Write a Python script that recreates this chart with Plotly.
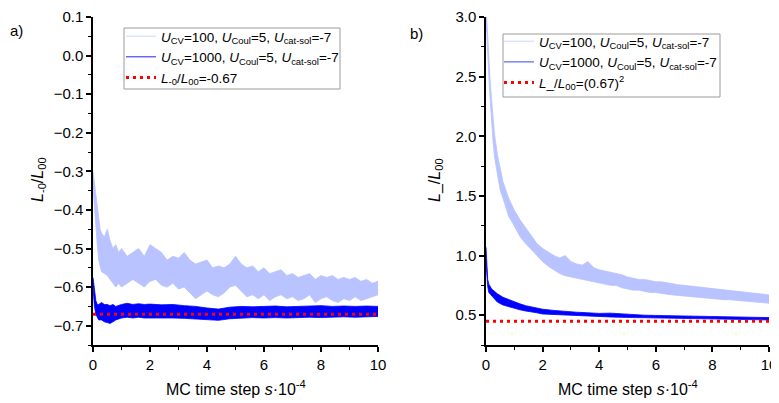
import plotly.graph_objects as go

# ---------------- data ----------------
# Panel a: L-0/L00, U_CV = 100 (light band envelope)
xa_light = [0, 0.05, 0.1, 0.15, 0.2, 0.25, 0.3, 0.4, 0.5, 0.6, 0.7, 0.8, 0.9, 1.0,
            1.2, 1.4, 1.6, 1.8, 2.0, 2.2, 2.4, 2.6, 2.8, 3.0, 3.2, 3.4, 3.6, 3.8,
            4.0, 4.2, 4.4, 4.6, 4.8, 5.0, 5.2, 5.4, 5.6, 5.8, 6.0, 6.2, 6.4, 6.6,
            6.8, 7.0, 7.2, 7.4, 7.6, 7.8, 8.0, 8.2, 8.4, 8.6, 8.8, 9.0, 9.2, 9.4,
            9.6, 9.8, 10.0]
ya_light_hi = [-0.30, -0.33, -0.36, -0.40, -0.43, -0.45, -0.46, -0.47, -0.45, -0.48,
               -0.50, -0.49, -0.51, -0.50, -0.52, -0.51, -0.50, -0.52, -0.49, -0.50,
               -0.51, -0.53, -0.52, -0.525, -0.51, -0.53, -0.54, -0.535, -0.53, -0.55,
               -0.545, -0.55, -0.54, -0.52, -0.54, -0.55, -0.545, -0.56, -0.55, -0.565,
               -0.56, -0.555, -0.57, -0.565, -0.575, -0.57, -0.565, -0.58, -0.57, -0.575,
               -0.57, -0.58, -0.575, -0.58, -0.575, -0.585, -0.58, -0.59, -0.585]
ya_light_lo = [-0.34, -0.40, -0.44, -0.49, -0.53, -0.55, -0.56, -0.565, -0.57, -0.58,
               -0.59, -0.60, -0.59, -0.60, -0.59, -0.58, -0.59, -0.60, -0.585, -0.58,
               -0.595, -0.60, -0.59, -0.605, -0.60, -0.615, -0.63, -0.62, -0.61, -0.62,
               -0.625, -0.615, -0.60, -0.595, -0.61, -0.625, -0.62, -0.63, -0.62, -0.635,
               -0.625, -0.62, -0.63, -0.625, -0.635, -0.63, -0.62, -0.64, -0.63, -0.625,
               -0.635, -0.64, -0.63, -0.635, -0.625, -0.635, -0.63, -0.625, -0.62]

# Panel a: U_CV = 1000 (dark band envelope)
xa_dark = [0, 0.05, 0.1, 0.15, 0.2, 0.3, 0.4, 0.5, 0.6, 0.7, 0.8, 1.0, 1.2, 1.4, 1.6,
           1.8, 2.0, 2.4, 2.8, 3.2, 3.6, 4.0, 4.4, 4.8, 5.2, 5.6, 6.0, 6.4, 6.8, 7.2,
           7.6, 8.0, 8.4, 8.8, 9.2, 9.6, 10.0]
ya_dark_hi = [-0.575, -0.61, -0.635, -0.645, -0.645, -0.64, -0.645, -0.645, -0.648, -0.645,
              -0.65, -0.645, -0.642, -0.645, -0.643, -0.645, -0.644, -0.646, -0.645, -0.648,
              -0.65, -0.654, -0.657, -0.652, -0.65, -0.651, -0.65, -0.649, -0.651, -0.65,
              -0.649, -0.648, -0.65, -0.649, -0.65, -0.649, -0.65]
ya_dark_lo = [-0.60, -0.65, -0.67, -0.68, -0.685, -0.685, -0.69, -0.692, -0.694, -0.69,
              -0.685, -0.68, -0.678, -0.68, -0.678, -0.68, -0.68, -0.679, -0.68, -0.681,
              -0.683, -0.685, -0.686, -0.682, -0.68, -0.679, -0.68, -0.679, -0.68, -0.679,
              -0.678, -0.679, -0.678, -0.677, -0.678, -0.677, -0.676]

# Panel b: L_/L00, U_CV = 100 (light band envelope)
xb_light = [0, 0.05, 0.1, 0.15, 0.2, 0.25, 0.3, 0.4, 0.5, 0.6, 0.7, 0.8, 0.9, 1.0,
            1.2, 1.4, 1.6, 1.8, 2.0, 2.2, 2.4, 2.6, 2.8, 3.0, 3.2, 3.4, 3.6, 3.8,
            4.0, 4.2, 4.4, 4.6, 4.8, 5.0, 5.2, 5.4, 5.6, 5.8, 6.0, 6.2, 6.4, 6.6,
            6.8, 7.0, 7.2, 7.4, 7.6, 7.8, 8.0, 8.2, 8.4, 8.6, 8.8, 9.0, 9.2, 9.4,
            9.6, 9.8, 10.0]
yb_light_hi = [3.10, 2.85, 2.65, 2.45, 2.30, 2.15, 2.02, 1.85, 1.72, 1.62, 1.55, 1.48,
               1.43, 1.38, 1.30, 1.23, 1.17, 1.10, 1.06, 1.03, 1.00, 0.98, 1.00, 0.95,
               0.93, 0.92, 0.95, 0.90, 0.88, 0.87, 0.86, 0.85, 0.84, 0.82, 0.81, 0.80,
               0.80, 0.79, 0.78, 0.78, 0.77, 0.76, 0.755, 0.75, 0.745, 0.74, 0.735, 0.73,
               0.725, 0.72, 0.71, 0.71, 0.70, 0.695, 0.69, 0.685, 0.68, 0.675, 0.67]
yb_light_lo = [3.00, 2.70, 2.50, 2.30, 2.10, 1.95, 1.83, 1.68, 1.55, 1.48, 1.40, 1.33,
               1.29, 1.25, 1.16, 1.10, 1.05, 1.00, 0.95, 0.91, 0.88, 0.85, 0.83, 0.82,
               0.81, 0.80, 0.79, 0.78, 0.77, 0.76, 0.75, 0.75, 0.73, 0.72, 0.71, 0.71,
               0.70, 0.69, 0.69, 0.68, 0.675, 0.67, 0.665, 0.66, 0.655, 0.65, 0.645, 0.64,
               0.64, 0.635, 0.63, 0.63, 0.625, 0.62, 0.615, 0.61, 0.605, 0.60, 0.60]

# Panel b: U_CV = 1000 (dark band envelope)
xb_dark = [0, 0.03, 0.06, 0.1, 0.2, 0.3, 0.4, 0.6, 0.8, 1.0, 1.2, 1.4, 1.6, 1.8, 2.0,
           2.4, 2.8, 3.2, 3.6, 4.0, 4.4, 4.8, 5.2, 5.6, 6.0, 6.5, 7.0, 7.5, 8.0, 8.5,
           9.0, 9.5, 10.0]
yb_dark_hi = [1.07, 0.90, 0.80, 0.76, 0.72, 0.70, 0.68, 0.65, 0.63, 0.61, 0.595, 0.58,
              0.57, 0.56, 0.55, 0.54, 0.53, 0.525, 0.52, 0.515, 0.517, 0.51, 0.505, 0.50,
              0.498, 0.495, 0.492, 0.49, 0.487, 0.485, 0.483, 0.482, 0.48]
yb_dark_lo = [0.95, 0.80, 0.74, 0.69, 0.66, 0.63, 0.61, 0.585, 0.57, 0.555, 0.545, 0.535,
              0.53, 0.52, 0.51, 0.505, 0.50, 0.495, 0.49, 0.487, 0.485, 0.482, 0.48, 0.477,
              0.475, 0.472, 0.47, 0.467, 0.465, 0.463, 0.462, 0.46, 0.46]

# reference levels
x_ref = [0, 10]
ref_a = -0.67
ref_b = 0.67 ** 2

name_100 = "<i>U</i><sub>CV</sub>=100, <i>U</i><sub>Coul</sub>=5, <i>U</i><sub>cat-sol</sub>=-7"
name_1000 = "<i>U</i><sub>CV</sub>=1000, <i>U</i><sub>Coul</sub>=5, <i>U</i><sub>cat-sol</sub>=-7"
name_ref_a = "<i>L</i><sub>-0</sub>/<i>L</i><sub>00</sub>=-0.67"
name_ref_b = "<i>L</i>_/<i>L</i><sub>00</sub>=(0.67)<sup>2</sup>"

LIGHT = "#b9c3ff"
DARK = "#0000ff"
RED = "#ff0000"

# page body has an 8px margin: figure occupies window pixels 8..779 / 8..403
OFF = 8
W, H = 779 - OFF, 403 - OFF
FONT = "Liberation Sans, Arial, sans-serif"


def px(x):
    return (x - OFF) / W


def py(y):
    return 1 - (y - OFF) / H


fig = go.Figure()


def band(x, lo, hi, color, xa, ya):
    fig.add_trace(go.Scatter(x=x, y=lo, mode="lines", line=dict(color=color, width=0.8),
                             showlegend=False, hoverinfo="skip", xaxis=xa, yaxis=ya))
    fig.add_trace(go.Scatter(x=x, y=hi, mode="lines", line=dict(color=color, width=0.8),
                             fill="tonexty", fillcolor=color, showlegend=False,
                             hoverinfo="skip", xaxis=xa, yaxis=ya))


band(xa_light, ya_light_lo, ya_light_hi, LIGHT, "x", "y")
band(xa_dark, ya_dark_lo, ya_dark_hi, DARK, "x", "y")
fig.add_trace(go.Scatter(x=x_ref, y=[ref_a, ref_a], mode="lines",
                         line=dict(color=RED, width=3, dash="3px,4px"),
                         showlegend=False, xaxis="x", yaxis="y"))

band(xb_light, yb_light_lo, yb_light_hi, LIGHT, "x2", "y2")
band(xb_dark, yb_dark_lo, yb_dark_hi, DARK, "x2", "y2")
fig.add_trace(go.Scatter(x=x_ref, y=[ref_b, ref_b], mode="lines",
                         line=dict(color=RED, width=3, dash="3px,4px"),
                         showlegend=False, xaxis="x2", yaxis="y2"))

# legend entries
for nm, col, dash, wd, lg in [
    (name_100, "#dde3ff", "solid", 1.5, "legend"),
    (name_1000, "#2020ff", "solid", 1, "legend"),
    (name_ref_a, RED, "3px,4px", 3, "legend"),
    (name_100, "#dde3ff", "solid", 1.5, "legend2"),
    (name_1000, "#7a86f2", "solid", 1.5, "legend2"),
    (name_ref_b, RED, "3px,4px", 3, "legend2"),
]:
    fig.add_trace(go.Scatter(x=[None], y=[None], mode="lines", name=nm,
                             line=dict(color=col, dash=dash, width=wd),
                             legend=lg, xaxis="x" if lg == "legend" else "x2",
                             yaxis="y" if lg == "legend" else "y2"))

ax_common = dict(showline=True, linecolor="black", linewidth=1.5, ticks="outside",
                 ticklen=5, tickwidth=1.5, tickcolor="black", showgrid=False,
                 zeroline=False, mirror=False, automargin=False,
                 ticklabeloverflow="allow",
                 tickfont=dict(family=FONT, size=15, color="black"))

minor_x = dict(dtick=1, ticks="outside", ticklen=3, tickwidth=1.2, tickcolor="black")
ydom = [py(345), py(17)]
leg_common = dict(xanchor="left", yanchor="top", borderwidth=0,
                  bgcolor="rgba(0,0,0,0)", font=dict(family=FONT, size=13.5, color="black"),
                  tracegroupgap=0, itemwidth=30, traceorder="normal")
fig.update_layout(
    width=W, height=H,
    margin=dict(l=0, r=0, t=0, b=0),
    paper_bgcolor="white", plot_bgcolor="white",
    font=dict(family=FONT, color="black"),
    xaxis=dict(domain=[px(93), px(378)], range=[0, 10], dtick=2, anchor="y",
               minor=minor_x, **ax_common),
    yaxis=dict(domain=ydom, range=[-0.75, 0.1], dtick=0.1, tick0=0, tickformat=".1f",
               anchor="x",
               minor=dict(dtick=0.05, ticks="outside", ticklen=3, tickwidth=1.2, tickcolor="black"),
               **ax_common),
    xaxis2=dict(domain=[px(486), px(769)], range=[0, 10], dtick=2, anchor="y2",
                minor=minor_x, **ax_common),
    yaxis2=dict(domain=ydom, range=[0.25, 3.0], dtick=0.5, tick0=0, tickformat=".1f",
                anchor="x2",
                minor=dict(dtick=0.25, ticks="outside", ticklen=3, tickwidth=1.2, tickcolor="black"),
                **ax_common),
    legend=dict(x=px(121), y=py(21), **leg_common),
    legend2=dict(x=px(499), y=py(26), **leg_common),
    showlegend=True,
)

# legend frames
for x0, y0, x1, y1 in [(124, 28, 340, 89), (503, 34, 720, 97)]:
    fig.add_shape(type="rect", xref="paper", yref="paper",
                  x0=px(x0), x1=px(x1), y0=py(y1), y1=py(y0),
                  line=dict(color="#9a9a9a", width=1), fillcolor="white", layer="above")

ann = [
    dict(text="a)", x=px(8), y=py(31), xanchor="left", yanchor="middle", font=dict(size=15)),
    dict(text="b)", x=px(408), y=py(33), xanchor="left", yanchor="middle", font=dict(size=15)),
    dict(text="<i>L</i><sub>-0</sub>/<i>L</i><sub>00</sub>", x=px(38), y=py(180),
         textangle=-90, xanchor="center", yanchor="middle", font=dict(size=16)),
    dict(text="<i>L</i>_/<i>L</i><sub>00</sub>", x=px(435), y=py(180),
         textangle=-90, xanchor="center", yanchor="middle", font=dict(size=16)),
    dict(text="MC time step <i>s</i>·10<sup>-4</sup>", x=px((93 + 378) / 2), y=py(388),
         xanchor="center", yanchor="middle", font=dict(size=16)),
    dict(text="MC time step <i>s</i>·10<sup>-4</sup>", x=px((486 + 769) / 2), y=py(388),
         xanchor="center", yanchor="middle", font=dict(size=16)),
]
for a in ann:
    a.update(xref="paper", yref="paper", showarrow=False)
    a["font"].update(family=FONT, color="black")
fig.update_layout(annotations=ann)

fig.write_html("out.html")
